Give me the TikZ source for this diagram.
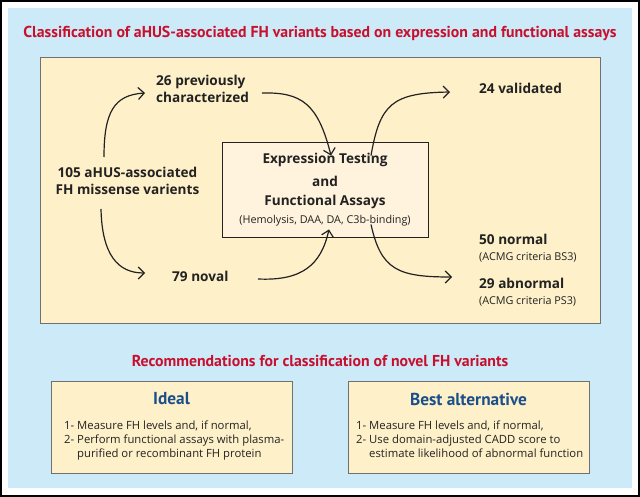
\documentclass[tikz,border=0pt]{standalone}
\usepackage{fontspec}
\setmainfont{Open Sans}
\newfontfamily\headfont{PT Sans}
\usetikzlibrary{arrows.meta}
\definecolor{panelblue}{HTML}{CDEAF8}
\definecolor{boxyellow}{HTML}{FEF0C9}
\definecolor{boxcream}{HTML}{FFF3DD}
\definecolor{titlered}{HTML}{C8102E}
\definecolor{headblue}{HTML}{1B4F8A}
\definecolor{inkgray}{HTML}{222222}
\definecolor{edgegray}{HTML}{707070}
\begin{document}
\begin{tikzpicture}[x=1pt,y=-1pt,
  redtitle/.style={font=\headfont\bfseries\fontsize{15.8}{18}\selectfont, text=titlered, inner sep=0},
  bluehead/.style={font=\headfont\bfseries\fontsize{17.3}{20}\selectfont, text=headblue, inner sep=0},
  boldtxt/.style={font=\bfseries\fontsize{13.6}{16.5}\selectfont, text=inkgray, inner sep=0},
  smalltxt/.style={font=\fontsize{10.8}{12}\selectfont, text=inkgray, inner sep=0},
  bodytxt/.style={font=\fontsize{11.3}{14}\selectfont, text=inkgray, inner sep=0, align=left},
  panelbox/.style={draw=edgegray, line width=0.8pt, fill=boxyellow, inner sep=0},
  arr/.style={draw=inkgray, line width=1.2pt, -{Straight Barb[length=6pt,width=12pt,line width=1.2pt]}}
]
\useasboundingbox (0,0) rectangle (640,497);
\fill[white] (0,0) rectangle (640,497);
\draw[black, line width=1.6pt] (0.8,0.8) rectangle (639.2,496.2);
\fill[panelblue] (8,8) rectangle (632,488);

\node[redtitle] (title) at (320,33) {Classification of aHUS-associated FH variants based on expression and functional assays};

\node[panelbox, minimum width=560pt, minimum height=266pt] (mainbox) at (320,190) {};

\node[draw=inkgray, line width=0.9pt, fill=boxcream, minimum width=206pt, minimum height=95pt, inner sep=0] (assay) at (325,189.5) {};
\node[boldtxt] (assayA) at (325,160) {Expression Testing};
\node[boldtxt] (assayB) at (325,181) {and};
\node[boldtxt] (assayC) at (325,202) {Functional Assays};
\node[smalltxt] (assayD) at (325,221) {(Hemolysis, DAA, DA, C3b-binding)};

\node[boldtxt, align=center] (n105) at (127.5,181) {105 aHUS-associated\\FH missense varients};
\node[boldtxt, align=left, anchor=west] (n26) at (156,89) {26 previously\\characterized};
\node[boldtxt, anchor=west] (n79) at (172,276) {79 noval};
\node[boldtxt, anchor=west] (n24) at (479,88) {24 validated};
\node[boldtxt, anchor=west] (n50) at (479,239) {50 normal};
\node[smalltxt, anchor=west] (n50c) at (479,257) {(ACMG criteria BS3)};
\node[boldtxt, anchor=west] (n29) at (479,283) {29 abnormal};
\node[smalltxt, anchor=west] (n29c) at (479,301) {(ACMG criteria PS3)};

\coordinate (a1s) at (104,157);
\coordinate (a1e) at (145,93);
\draw[arr] (a1s) .. controls (104,112) and (114,95) .. (a1e);
\coordinate (a2s) at (101,209);
\coordinate (a2e) at (145,273);
\draw[arr] (a2s) .. controls (102,255) and (118,273) .. (a2e);
\coordinate (a3s) at (262,93);
\draw[arr] (a3s) .. controls (302,92) and (318,104) .. ([xshift=6pt,yshift=-14pt]assay.north);
\coordinate (a4s) at (258,279);
\draw[arr] (a4s) .. controls (302,281) and (321,265) .. ([xshift=4pt,yshift=8pt]assay.south);
\coordinate (a5e) at (450,92);
\draw[arr] ([xshift=46pt,yshift=-14pt]assay.north) .. controls (380,104) and (392,93) .. (a5e);
\coordinate (a6e) at (452,277);
\draw[arr] ([xshift=46pt,yshift=13pt]assay.south) .. controls (381,270) and (398,277) .. (a6e);

\node[redtitle] (rectitle) at (320,361) {Recommendations for classification of novel FH variants};

\node[panelbox, minimum width=241pt, minimum height=92pt] (ideal) at (171.5,427) {};
\node[bluehead] (idealh) at (171.5,399) {Ideal};
\node[bodytxt, anchor=north west] (idealt) at (64,420.5) {1- Measure FH levels and, if normal,\\2- Perform functional assays with plasma-\\\hphantom{2- }purified or recombinant FH protein};

\node[panelbox, minimum width=241pt, minimum height=92pt] (best) at (468.5,427) {};
\node[bluehead] (besth) at (468.5,399) {Best alternative};
\node[bodytxt, anchor=north west] (bestt) at (356,420.5) {1- Measure FH levels and, if normal,\\2- Use domain-adjusted CADD score to\\\hphantom{2- }estimate likelihood of abnormal function};
\end{tikzpicture}
\end{document}
